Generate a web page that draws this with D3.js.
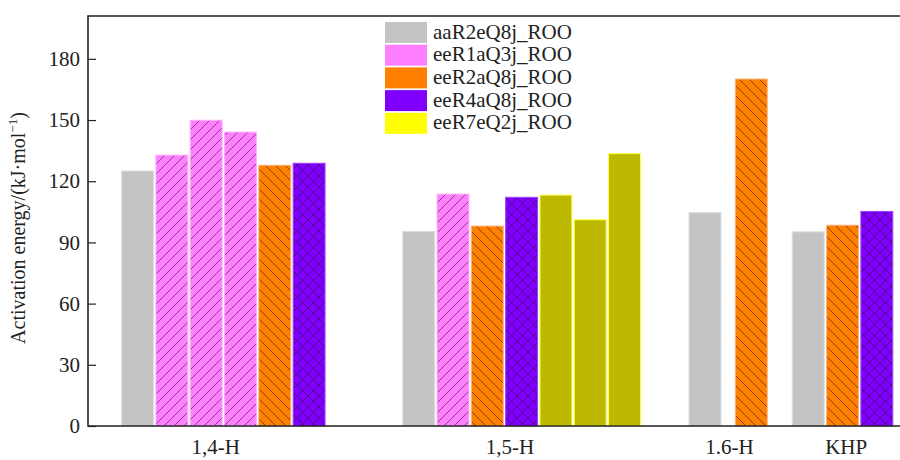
<!DOCTYPE html>
<meta charset="utf-8">
<head>
<style>
  body { margin: 0; background: #fff; }
  text { font-family: "Liberation Serif", "Times New Roman", serif; fill: #222; }
</style>
</head>
<body>
<script src="https://d3js.org/d3.v7.min.js"></script>
<script>

// Data
var seriesNames = ["aaR2eQ8j_ROO", "eeR1aQ3j_ROO", "eeR2aQ8j_ROO", "eeR4aQ8j_ROO", "eeR7eQ2j_ROO"];
var categories = ["1,4-H", "1,5-H", "1.6-H", "KHP"];
var categorySlot = [3.72, 12.3, 18.7, 22.1];

// each bar: series index, value, slot (left edge, in bar-pitch units)
var barSeries = [0, 1, 1, 1, 2, 3,   0, 1, 2, 3, 4, 4, 4,   0, 2,   0, 2, 3];
var barValues = [125, 132.8, 149.9, 144.1, 127.8, 128.8,
                 95.4, 113.7, 98, 112.1, 113.2, 101.1, 133.5,
                 104.6, 170.1,
                 95.2, 98.4, 105.2];
var barSlots  = [0.98, 1.98, 2.98, 3.98, 4.98, 5.98,
                 9.175, 10.175, 11.175, 12.175, 13.175, 14.175, 15.175,
                 17.52, 18.87,
                 20.53, 21.53, 22.53];
var yTicks = [0, 30, 60, 90, 120, 150, 180];

var width = 900, height = 460;
var margin = {left: 88, top: 16, right: 0, bottom: 34};

var colors = ["#c4c4c4", "#ff80ff", "#ff8000", "#8000ff", "#ffff00"];
var barFill = ["#c4c4c4", "url(#hatchPink)", "url(#hatchOrange)", "url(#hatchPurple)", "#bdb900"];
var barStroke = ["#dcdcdc", "#ffb0ff", "#ffb070", "#9a40ff", "#ffff40"];

var svg = d3.select("body").append("svg")
    .attr("width", width)
    .attr("height", height);

// hatch patterns
var defs = svg.append("defs");

function hatch(id, bg, size, dirs) {
  var p = defs.append("pattern")
      .attr("id", id)
      .attr("patternUnits", "userSpaceOnUse")
      .attr("width", size)
      .attr("height", size);
  p.append("rect").attr("width", size).attr("height", size).attr("fill", bg);
  dirs.forEach(function(d){
    var pts = d == "/" ? [[-1, size + 1], [size + 1, -1]] : [[-1, -1], [size + 1, size + 1]];
    p.append("line")
      .attr("x1", pts[0][0]).attr("y1", pts[0][1])
      .attr("x2", pts[1][0]).attr("y2", pts[1][1])
      .attr("stroke", "#2a102a")
      .attr("stroke-opacity", 0.7)
      .attr("stroke-width", 0.8);
  });
}
hatch("hatchPink", "#ff80ff", 10, ["/"]);
hatch("hatchOrange", "#ff8000", 10, ["\\"]);
hatch("hatchPurple", "#8000ff", 11, ["/", "\\"]);

var x = d3.scaleLinear()
    .domain([0, 23.67])
    .range([margin.left, width - margin.right]);

var y = d3.scaleLinear()
    .domain([0, 201])
    .range([height - margin.bottom, margin.top]);

var barW = 0.93;

// bars
svg.append("g").selectAll("rect")
  .data(barValues)
  .enter()
  .append("rect")
    .attr("x", function(d, i){ return x(barSlots[i]); })
    .attr("y", function(d){ return y(d); })
    .attr("width", function(d, i){ return x(barSlots[i] + barW) - x(barSlots[i]); })
    .attr("height", function(d){ return y(0) - y(d); })
    .attr("fill", function(d, i){ return barFill[barSeries[i]]; })
    .attr("stroke", function(d, i){ return barStroke[barSeries[i]]; })
    .attr("stroke-width", 1);

// y axis, ticks pointing inward
var yAxis = d3.axisRight(y)
    .tickValues(yTicks)
    .tickSize(8)
    .tickFormat(d3.format("d"));

var yg = svg.append("g")
    .attr("transform", "translate(" + margin.left + ",0)")
    .call(yAxis)
    .attr("font-family", "Liberation Serif");
yg.select(".domain").remove();
yg.selectAll(".tick line").attr("stroke", "#222").attr("stroke-width", 1.2);
yg.selectAll(".tick text")
    .attr("x", -8)
    .attr("text-anchor", "end")
    .attr("font-size", 21)
    .attr("fill", "#222");

// frame: left, top, bottom
svg.append("path")
    .attr("d", "M" + x(23.67) + "," + y(201) + "H" + x(0) + "V" + y(0) + "H" + x(23.67))
    .attr("fill", "none")
    .attr("stroke", "#222")
    .attr("stroke-width", 1.6);

// x labels
svg.append("g").selectAll("text")
  .data(categories)
  .enter()
  .append("text")
    .attr("x", function(d, i){ return x(categorySlot[i]); })
    .attr("y", y(0) + 28)
    .attr("text-anchor", "middle")
    .attr("font-size", 21)
    .text(function(d){ return d; });

// y label
var ylab = svg.append("text")
    .attr("transform", "translate(25," + 228 + ")rotate(-90)")
    .attr("text-anchor", "middle")
    .attr("font-size", 20);
ylab.append("tspan").text("Activation energy/(kJ\u00b7mol");
ylab.append("tspan").attr("dy", -8).attr("font-size", 13).text("\u22121");
ylab.append("tspan").attr("dy", 8).text(")");

// legend
var legend = svg.append("g").attr("transform", "translate(385,22)");
var item = legend.selectAll("g")
  .data(seriesNames)
  .enter()
  .append("g")
    .attr("transform", function(d, i){ return "translate(0," + (i * 22.7) + ")"; });
item.append("rect")
    .attr("width", 42)
    .attr("height", 21)
    .attr("fill", function(d, i){ return colors[i]; });
item.append("text")
    .attr("x", 48)
    .attr("y", 16.5)
    .attr("font-size", 21)
    .text(function(d){ return d; });

</script>
</body>
